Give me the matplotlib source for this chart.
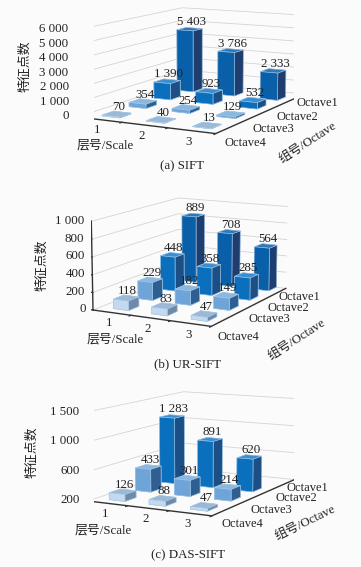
import numpy as np
import matplotlib
matplotlib.use('Agg')
import matplotlib.pyplot as plt
from mpl_toolkits.mplot3d import proj3d

FONT = ['Liberation Serif', 'Noto Sans CJK SC']
W, H = 361, 567

scales = ['1', '2', '3']
octaves = ['Octave4', 'Octave3', 'Octave2', 'Octave1']

# rows run front to back: Octave4 ... Octave1
sift = [[70, 40, 13], [354, 254, 129], [1390, 923, 532], [5403, 3786, 2333]]
ur_sift = [[118, 83, 47], [229, 182, 149], [448, 358, 285], [889, 708, 564]]
das_sift = [[126, 88, 47], [433, 301, 214], [1283, 891, 620]]

sift_ticks = ['0', '1 000', '2 000', '3 000', '4 000', '5 000', '6 000']
ur_ticks = ['0', '200', '400', '600', '800', '1 000']
das_ticks = ['200', '600', '1 000', '1 500']

# front, side, top per row
colors = [('#c5d9ee', '#6f8aa8', '#9bb8d5'),
          ('#6fa4d8', '#2f5f90', '#8ab8e0'),
          ('#0a70bd', '#1c4f86', '#3b8fd0'),
          ('#0a60a8', '#1f3d6e', '#2f78b8')]
oct_drop = [0.12, 0.11, 0.10, 0.04]


def fmt(v):
    return '{:,}'.format(v).replace(',', ' ')


def panel(fig, corner, values, ticks, zmax, elev, azim, aspect, ymax, oct_y, bar_scale, shift):
    aw, ah = 361.0, 200.0
    ax = fig.add_axes([0, 0, aw / W, ah / H], projection='3d', proj_type='persp', focal_length=1.0)
    ax.set_axis_off()
    ax.patch.set_alpha(0)
    ax.computed_zorder = False
    ax.view_init(elev=elev, azim=azim)
    # aspect units are about one screen pixel along each axis
    ax.set_box_aspect(aspect, zoom=1.3 * np.linalg.norm(aspect) / 265.0)
    xmin, xmax, ymin = 0.5, 3.5, -0.5
    ax.set_xlim(xmin, xmax)
    ax.set_ylim(ymin, ymax)
    ax.set_zlim(0, zmax)
    M = ax.get_proj()

    # slide the axes so the front left corner of the floor lands on its pixel
    ax.apply_aspect()
    xp, yp, _ = proj3d.proj_transform(xmin, ymin, 0, M)
    px, py = ax.transData.transform((xp, yp))
    ax.set_position([(corner[0] - px) / W, (H - corner[1] - py) / H, aw / W, ah / H])

    def put(x, y, z, s, **kw):
        xp, yp, _ = proj3d.proj_transform(x, y, z, M)
        ax.text2D(xp, yp, s, transform=ax.transData, family=FONT, color='#222222', **kw)

    # walls
    tick_pos = np.linspace(0, zmax, len(ticks))
    for z, t in zip(tick_pos, ticks):
        ax.plot([xmin, xmin, xmax], [ymin, ymax, ymax], [z, z, z], color='#d4d4d4', lw=0.6, zorder=1)
        ax.plot([xmin, xmin - 0.07], [ymin, ymin], [z, z], color='#333333', lw=0.9, zorder=5)
        put(xmin - 0.2, ymin, z, t, ha='right', va='center', fontsize=9.3, zorder=6)
    ax.plot([xmin, xmin], [ymin, ymin], [0, zmax], color='#333333', lw=1.0, zorder=5)
    ax.plot([xmin, xmax, xmax], [ymin, ymin, ymax], [0, 0, 0], color='#333333', lw=1.0, zorder=5)
    for x in [1.5, 2.5, 3.5]:
        ax.plot([x, x], [ymin, ymin - 0.07], [0, 0], color='#333333', lw=0.9, zorder=5)

    xs, ys, hs, cs = [], [], [], []
    for r, row in enumerate(values):
        for s, v in enumerate(row):
            xs.append(s + 1 - 0.2 + shift)
            ys.append(r - 0.2)
            hs.append(v * bar_scale)
            # faces: bottom, top, front, back, left, right
            f, d, t = colors[r]
            cs += [d, t, f, d, d, d]
    ax.bar3d(xs, ys, np.zeros(len(xs)), 0.4, 0.42, hs, color=cs, shade=False,
             edgecolor='#a9cdea', linewidth=0.4, zorder=3)

    for r, row in enumerate(values):
        for s, v in enumerate(row):
            put(s + 1 + shift + 0.05, r, v * bar_scale + zmax * 0.015, fmt(v), ha='center', va='bottom',
                fontsize=9.3, zorder=8)

    for i, s in enumerate(scales):
        put(i + 1, ymin - 0.1, -zmax * 0.11, s, ha='center', va='center', fontsize=9.3, zorder=6)
    for y, o, d in zip(oct_y, octaves, oct_drop):
        put(xmax + 0.08, y, -zmax * d, o, ha='left', va='center', fontsize=9, zorder=6)
    return ax


def label(fig, x, y, s, size=9.3, rot=0, ha='center'):
    fig.text(x / W, 1 - y / H, s, fontsize=size, rotation=rot, ha=ha, va='center',
             rotation_mode='anchor', family=FONT, color='#222222')


fig = plt.figure(figsize=(W / 100, H / 100), dpi=100, facecolor='#fbfbfb')

panel(fig, (78, 117), sift, sift_ticks, 6000, 9.5, -62, (146, 205, 83), 3.7, [-0.29, 0.89, 2.02, 3.07], 0.87, 0.06)
panel(fig, (93, 310), ur_sift, ur_ticks, 1000, 11.5, -62, (127, 170, 86), 3.2, [-0.39, 1.05, 2.02, 2.65], 0.92, 0.04)
panel(fig, (88, 501), das_sift, das_ticks, 1500, 9.5, -62, (132, 189, 85), 3.4, [-0.23, 1.02, 2.23, 2.82], 0.93, 0.03)

label(fig, 105, 145, '层号/Scale')
label(fig, 182, 166, '(a) SIFT')
label(fig, 25, 66, '特征点数', rot=90)
label(fig, 308, 143, '组号/Octave', rot=33)

label(fig, 115, 339, '层号/Scale')
label(fig, 188, 364, '(b) UR-SIFT')
label(fig, 42, 265, '特征点数', rot=90)
label(fig, 297, 340, '组号/Octave', rot=33)

label(fig, 103, 530, '层号/Scale')
label(fig, 188, 555, '(c) DAS-SIFT')
label(fig, 32, 452, '特征点数', rot=90)
label(fig, 305, 523, '组号/Octave', rot=26)

fig.savefig('out.png', dpi=100, facecolor=fig.get_facecolor())
